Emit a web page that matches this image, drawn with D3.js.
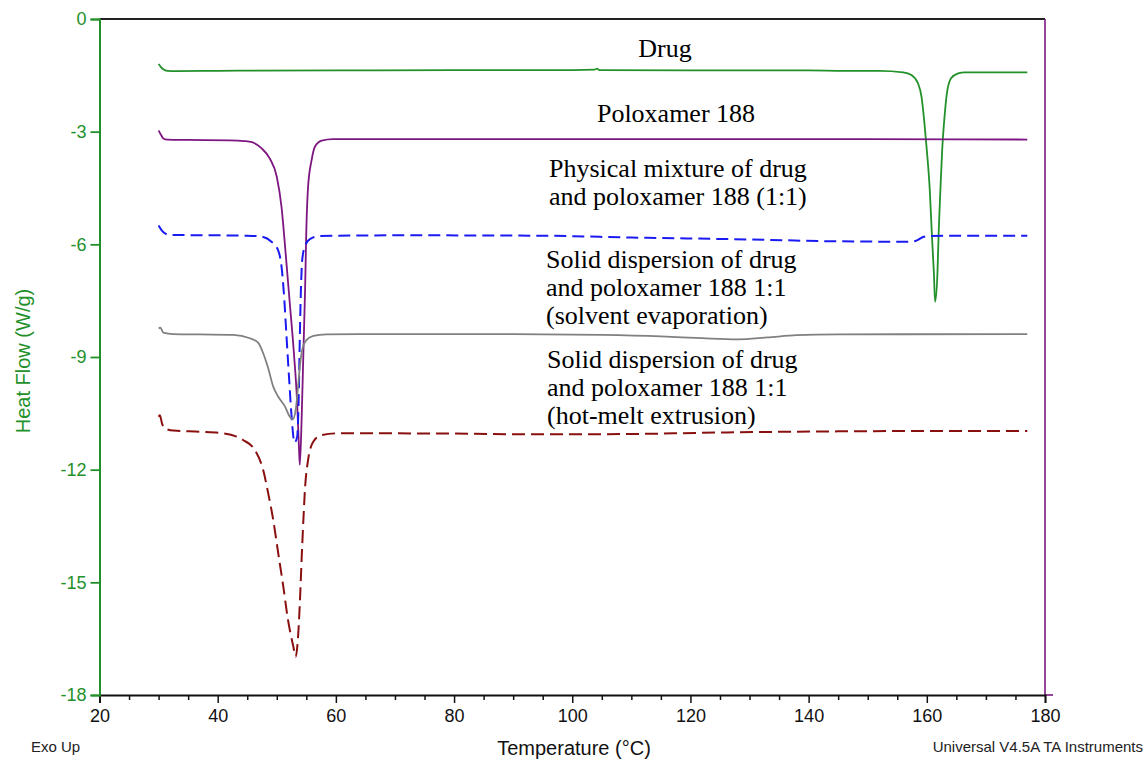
<!DOCTYPE html>
<html>
<head>
<meta charset="utf-8">
<script src="https://cdn.jsdelivr.net/npm/d3@7"></script>
<style>
  html, body { margin: 0; padding: 0; background: #ffffff; }
  svg { display: block; }
</style>
</head>
<body>
<svg id="chart" width="1148" height="761"></svg>
<script>
// DSC thermograms: temperature (°C) vs heat flow (W/g), exo up
const drug = [
  [30.0,-1.20],[30.4,-1.28],[30.8,-1.34],[31.5,-1.38],[33,-1.39],[40,-1.38],[60,-1.37],
  [80,-1.36],[100,-1.36],[103.8,-1.35],[104.2,-1.32],[104.6,-1.36],[120,-1.37],[140,-1.37],
  [146,-1.38],[152,-1.38],[156.0,-1.42],[157.4,-1.49],[158.5,-1.71],[159.1,-2.07],
  [159.6,-2.78],[160.0,-3.49],[160.5,-4.55],[160.9,-5.88],[161.2,-6.77],[161.4,-7.53],
  [161.8,-6.77],[162.0,-5.71],[162.3,-4.55],[162.6,-3.49],[163.0,-2.60],[163.4,-1.98],
  [164.1,-1.58],[165.3,-1.45],[166.4,-1.42],[177.0,-1.42]
];

const poloxamer = [
  [30.0,-2.97],[30.4,-3.08],[30.8,-3.18],[31.5,-3.21],[35,-3.22],[42,-3.23],[44.5,-3.25],
  [45.8,-3.28],[47.4,-3.44],[48.8,-3.71],[50.0,-4.20],[50.8,-5.00],[51.5,-6.24],[52.2,-7.57],
  [52.9,-8.90],[53.45,-10.23],[53.75,-11.4],[53.9,-11.87],[54.2,-10.68],[54.5,-8.90],
  [54.8,-7.13],[55.0,-5.62],[55.3,-4.46],[55.9,-3.75],[56.45,-3.40],[57.6,-3.24],
  [59.5,-3.20],[80,-3.20],[120,-3.20],[150,-3.20],[177.0,-3.21]
];

const physicalMixture = [
  [30.0,-5.50],[30.5,-5.62],[31.1,-5.71],[32,-5.75],[40,-5.76],[45,-5.77],[47.2,-5.79],
  [49.1,-5.93],[50.2,-6.15],[50.8,-6.59],[51.2,-7.30],[51.65,-8.46],[52.1,-9.61],
  [52.55,-10.68],[53.0,-11.28],[53.45,-11.12],[53.75,-9.79],[53.9,-8.46],[54.1,-7.13],
  [54.3,-6.42],[54.75,-6.06],[55.6,-5.86],[57.3,-5.78],[70,-5.76],[95,-5.77],[110,-5.82],
  [130,-5.87],[145,-5.92],[157.5,-5.93],[158.5,-5.88],[159.5,-5.80],[160.5,-5.78],
  [165,-5.77],[177.0,-5.77]
];

const solventEvaporation = [
  [30.0,-8.24],[30.3,-8.22],[30.8,-8.35],[32.5,-8.39],[37,-8.40],[42.6,-8.41],[45.45,-8.50],
  [46.9,-8.63],[47.7,-8.90],[48.55,-9.30],[49.4,-9.79],[50.25,-10.06],[51.4,-10.32],
  [52.2,-10.59],[52.7,-10.66],[53.2,-10.41],[53.6,-9.79],[53.9,-9.26],[54.3,-8.81],
  [55.0,-8.55],[56.2,-8.44],[58.4,-8.40],[64,-8.39],[90,-8.39],[105,-8.41],[115,-8.45],
  [122,-8.50],[128,-8.53],[133,-8.48],[138,-8.42],[145,-8.40],[177.0,-8.39]
];

const hotMeltExtrusion = [
  [30.0,-10.59],[30.2,-10.55],[30.6,-10.78],[31.1,-10.90],[32.5,-10.96],[37,-10.99],
  [40.9,-11.03],[43.2,-11.12],[44.3,-11.21],[46.3,-11.48],[47.7,-12.01],[48.55,-12.63],
  [49.4,-13.34],[50.25,-14.23],[51.1,-15.11],[51.9,-16.0],[52.8,-16.71],[53.2,-16.98],
  [53.6,-16.45],[53.9,-15.56],[54.2,-14.40],[54.5,-13.34],[54.8,-12.45],[55.3,-11.74],
  [56.2,-11.25],[57.6,-11.08],[60.7,-11.03],[80,-11.04],[95,-11.06],[110,-11.05],
  [125,-11.01],[145,-10.98],[160,-10.97],[177.0,-10.97]
];

const xTicks = [20, 40, 60, 80, 100, 120, 140, 160, 180];
const xMinorTicks = [25, 30, 35, 45, 50, 55, 65, 70, 75, 85, 90, 95, 105, 110, 115,
                     125, 130, 135, 145, 150, 155, 165, 170, 175];
const yTicks = [0, -3, -6, -9, -12, -15, -18];

const labelDrug = ["Drug"];
const labelPoloxamer = ["Poloxamer 188"];
const labelPhysical = ["Physical mixture of drug", "and poloxamer 188 (1:1)"];
const labelSolvent = ["Solid dispersion of drug", "and poloxamer 188 1:1", "(solvent evaporation)"];
const labelHotMelt = ["Solid dispersion of drug", "and poloxamer 188 1:1", "(hot-melt extrusion)"];

const GREEN = "#23912a", PURPLE = "#7d1680", BLUE = "#1a1af2", GRAY = "#808080", BROWN = "#8a1010";

const svg = d3.select("#chart");
const x = d3.scaleLinear().domain([20, 180]).range([99.5, 1045]);
const y = d3.scaleLinear().domain([-18, 0]).range([695, 19]);

const sans = "'Liberation Sans', Arial, sans-serif";
const serif = "'Liberation Serif', 'Times New Roman', serif";

// frame: top border and right (purple) axis
svg.append("line").attr("x1", x(20)).attr("x2", x(180)).attr("y1", y(0)).attr("y2", y(0))
  .attr("stroke", "#222").attr("stroke-width", 2);
svg.append("line").attr("x1", x(180)).attr("x2", x(180)).attr("y1", y(0)).attr("y2", y(-18))
  .attr("stroke", PURPLE).attr("stroke-width", 1.6);
svg.append("line").attr("x1", x(180)).attr("x2", x(180) + 8).attr("y1", y(-18)).attr("y2", y(-18))
  .attr("stroke", PURPLE).attr("stroke-width", 1.6);

// x axis (major + minor ticks)
const gx = svg.append("g").attr("transform", `translate(0,${y(-18)})`)
  .call(d3.axisBottom(x).tickValues(xTicks).tickSize(8).tickPadding(6).tickFormat(d3.format("d")));
gx.select(".domain").attr("stroke", "#111").attr("stroke-width", 1.8);
gx.selectAll(".tick line").attr("stroke", "#111").attr("stroke-width", 1.5);
gx.selectAll(".tick text").attr("font-family", sans).attr("font-size", 18).attr("fill", "#111");

const gxm = svg.append("g").attr("transform", `translate(0,${y(-18)})`)
  .call(d3.axisBottom(x).tickValues(xMinorTicks).tickSize(5).tickFormat(""));
gxm.select(".domain").remove();
gxm.selectAll(".tick line").attr("stroke", "#111").attr("stroke-width", 1.5);

// y axis
const gy = svg.append("g").attr("transform", `translate(${x(20)},0)`)
  .call(d3.axisLeft(y).tickValues(yTicks).tickSize(9).tickPadding(4).tickFormat(d3.format("d")));
gy.select(".domain").attr("stroke", GREEN).attr("stroke-width", 2);
gy.selectAll(".tick line").attr("stroke", GREEN).attr("stroke-width", 1.8);
gy.selectAll(".tick text").attr("font-family", sans).attr("font-size", 18).attr("fill", GREEN)
  .text(d => d === 0 ? "0" : "-" + Math.abs(d));

// curves
const line = d3.line().x(d => x(d[0])).y(d => y(d[1])).curve(d3.curveMonotoneX);
const series = [
  { data: drug, color: GREEN, width: 1.8, dash: null },
  { data: poloxamer, color: PURPLE, width: 1.8, dash: null },
  { data: physicalMixture, color: BLUE, width: 2, dash: "12,6" },
  { data: solventEvaporation, color: GRAY, width: 1.8, dash: null },
  { data: hotMeltExtrusion, color: BROWN, width: 2, dash: "13,6" }
];
svg.append("g").selectAll("path").data(series).join("path")
  .attr("d", d => line(d.data))
  .attr("fill", "none")
  .attr("stroke", d => d.color)
  .attr("stroke-width", d => d.width)
  .attr("stroke-dasharray", d => d.dash)
  .attr("stroke-linejoin", "round");

// curve annotations
function block(lines, px, py, anchor) {
  const t = svg.append("text").attr("font-family", serif).attr("font-size", 26)
    .attr("fill", "#000").attr("text-anchor", anchor);
  t.selectAll("tspan").data(lines).join("tspan")
    .attr("x", px).attr("y", (d, i) => py + i * 28).text(d => d);
}
block(labelDrug, 665, 57, "middle");
block(labelPoloxamer, 676, 122, "middle");
block(labelPhysical, 549, 177, "start");
block(labelSolvent, 546, 268, "start");
block(labelHotMelt, 547, 368, "start");

// axis titles and footer
svg.append("text").attr("transform", "translate(30,361) rotate(-90)")
  .attr("text-anchor", "middle").attr("font-family", sans).attr("font-size", 20)
  .attr("fill", GREEN).text("Heat Flow (W/g)");
svg.append("text").attr("x", 574).attr("y", 755).attr("text-anchor", "middle")
  .attr("font-family", sans).attr("font-size", 20).attr("fill", "#111").text("Temperature (°C)");
svg.append("text").attr("x", 31).attr("y", 752).attr("font-family", sans).attr("font-size", 15)
  .attr("fill", "#222").text("Exo Up");
svg.append("text").attr("x", 1143).attr("y", 752).attr("text-anchor", "end").attr("font-family", sans)
  .attr("font-size", 15).attr("fill", "#222").text("Universal V4.5A TA Instruments");
</script>
</body>
</html>
